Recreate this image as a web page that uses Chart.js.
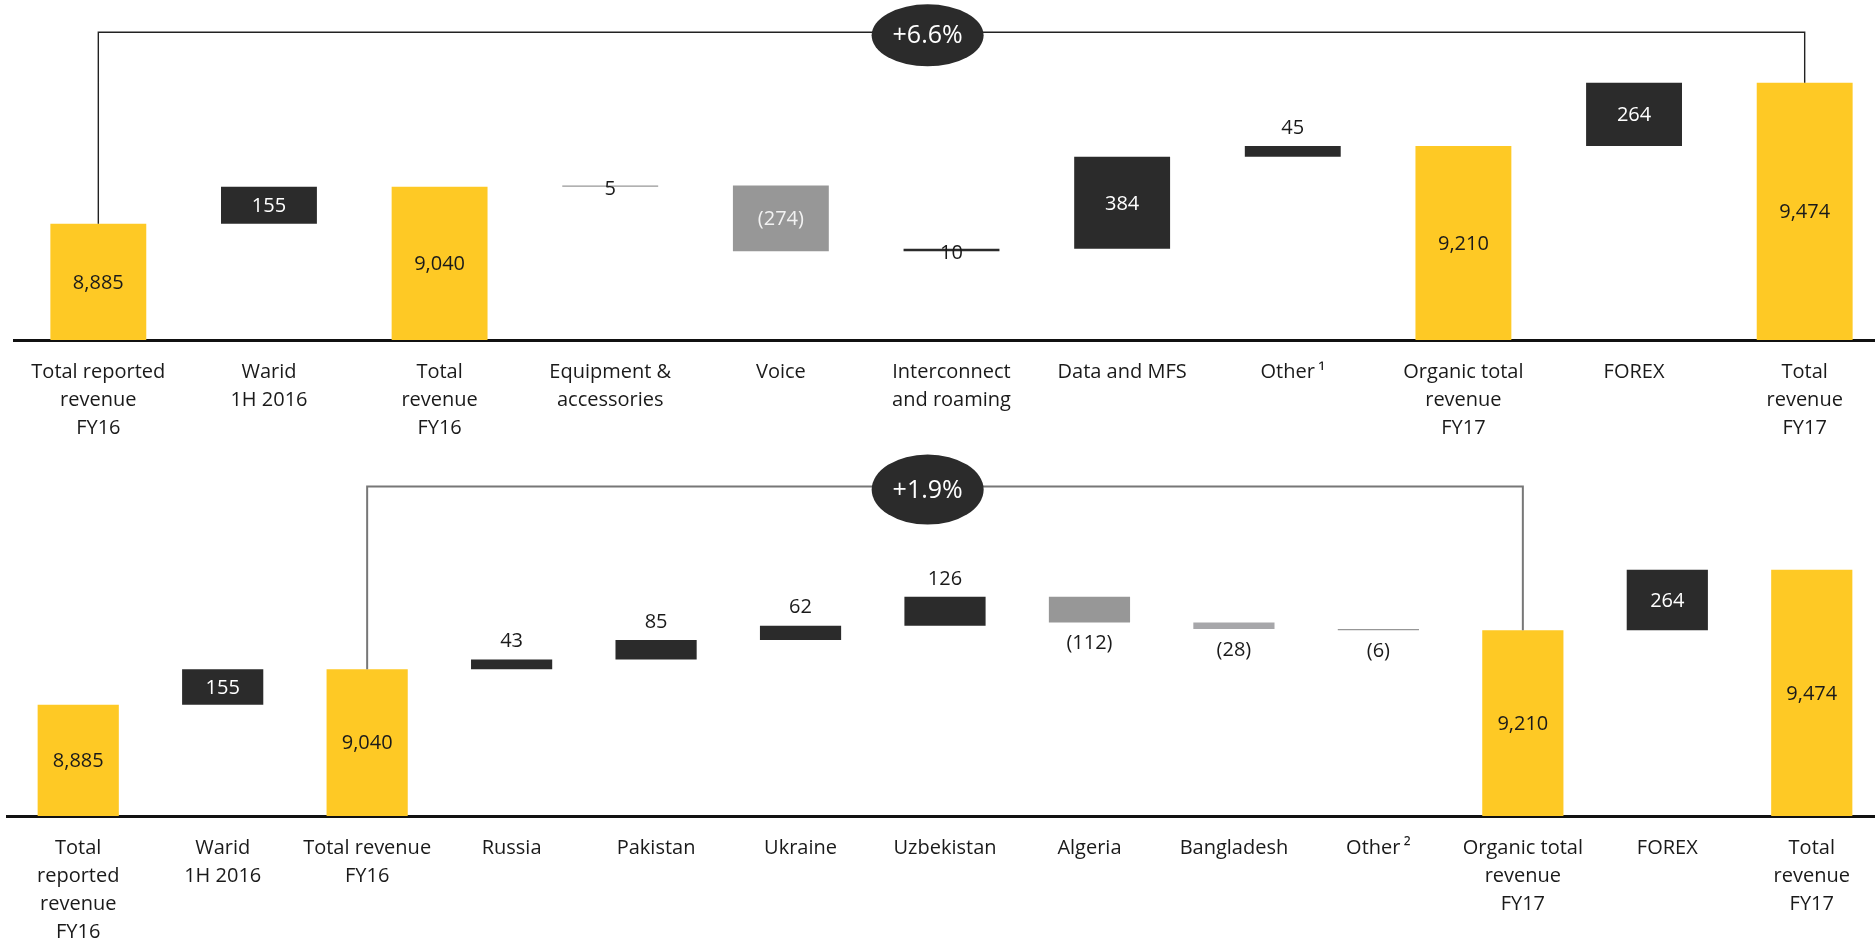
<!DOCTYPE html>
<html>
<head>
<meta charset="utf-8">
<script src="https://cdn.jsdelivr.net/npm/chart.js@4.4.0/dist/chart.umd.min.js"></script>
<style>
  html, body { margin: 0; padding: 0; background: #fff; overflow: hidden; width: 1875px; height: 943px; }
  canvas { position: absolute; }
  #top { left: 13px; top: 0; }
  #bottom { left: 6px; top: 440px; }
</style>
</head>
<body>
<canvas id="top" width="1877" height="440"></canvas>
<canvas id="bottom" width="1878" height="503"></canvas>
<script>
// ---- top chart: revenue bridge by driver ----
const topCategories = [
  ['Total reported', 'revenue', 'FY16'], ['Warid', '1H 2016'], ['Total', 'revenue', 'FY16'],
  ['Equipment &', 'accessories'], 'Voice', ['Interconnect', 'and roaming'], 'Data and MFS',
  'Other\u2009\u00B9', ['Organic total', 'revenue', 'FY17'], 'FOREX', ['Total', 'revenue', 'FY17']
];
const topValues = [8885, 155, 9040, 5, -274, 10, 384, 45, 9210, 264, 9474];
const topTotals = [0, 2, 8, 10];
const topGrowth = '+6.6%';

// ---- bottom chart: revenue bridge by country ----
const bottomCategories = [
  ['Total', 'reported', 'revenue', 'FY16'], ['Warid', '1H 2016'], ['Total revenue', 'FY16'],
  'Russia', 'Pakistan', 'Ukraine', 'Uzbekistan', 'Algeria', 'Bangladesh', 'Other\u2009\u00B2',
  ['Organic total', 'revenue', 'FY17'], 'FOREX', ['Total', 'revenue', 'FY17']
];
const bottomValues = [8885, 155, 9040, 43, 85, 62, 126, -112, -28, -6, 9210, 264, 9474];
const bottomTotals = [0, 2, 10, 12];
const bottomGrowth = '+1.9%';

// styles
const FONT = '"Open Sans", "Noto Sans", sans-serif';
const YELLOW = '#fec925';
const DARK = '#2b2b2b';
const GREY = '#979797';
const LIGHTGREY = '#a7a7aa';
const INK = '#1a1a1a';

const topColors = [YELLOW, DARK, YELLOW, GREY, GREY, DARK, DARK, DARK, YELLOW, DARK, YELLOW];
const topLabelPos = ['in', 'in', 'in', 'mid', 'in', 'mid', 'in', 'above', 'in', 'in', 'in'];
const topLabelColors = [INK, '#fff', INK, INK, '#f2f2f2', INK, '#fff', INK, INK, '#fff', INK];

const bottomColors = [YELLOW, DARK, YELLOW, DARK, DARK, DARK, DARK, GREY, LIGHTGREY, GREY, YELLOW, DARK, YELLOW];
const bottomLabelPos = ['in', 'in', 'in', 'above', 'above', 'above', 'above', 'below', 'below', 'below', 'in', 'in', 'in'];
const bottomLabelColors = [INK, '#fff', INK, INK, INK, INK, INK, INK, INK, INK, INK, '#fff', INK];

const FLOOR = 8400;

function waterfall(values, totals) {
  let run = 0;
  return values.map((v, i) => {
    if (totals.includes(i)) { run = v; return [FLOOR, v]; }
    const start = run;
    run += v;
    return [start, run];
  });
}

function fmt(v) {
  const s = Math.abs(v).toLocaleString('en-US');
  return v < 0 ? '(' + s + ')' : s;
}

const valueLabels = {
  id: 'valueLabels',
  afterDatasetsDraw(chart, args, o) {
    const ctx = chart.ctx;
    const meta = chart.getDatasetMeta(0);
    ctx.save();
    ctx.font = '20px ' + FONT;
    ctx.textAlign = 'center';
    ctx.textBaseline = 'middle';
    meta.data.forEach((bar, i) => {
      const top = Math.min(bar.y, bar.base);
      const bottom = Math.max(bar.y, bar.base);
      let y = (top + bottom) / 2 + 1;
      if (o.positions[i] === 'above') y = top - 18;
      if (o.positions[i] === 'below') y = bottom + 21;
      if (o.positions[i] === 'mid') y = (top + bottom) / 2 + 3;
      ctx.fillStyle = o.colors[i];
      ctx.fillText(fmt(o.values[i]), bar.x, y);
    });
    ctx.restore();
  }
};

const bracket = {
  id: 'bracket',
  afterDatasetsDraw(chart, args, o) {
    const ctx = chart.ctx, xs = chart.scales.x, ys = chart.scales.y;
    const meta = chart.getDatasetMeta(0);
    const x1 = xs.getPixelForValue(o.from), x2 = xs.getPixelForValue(o.to);
    const ly = ys.getPixelForValue(o.level);
    ctx.save();
    ctx.strokeStyle = o.color;
    ctx.lineWidth = o.width;
    ctx.beginPath();
    ctx.moveTo(x1, meta.data[o.from].y);
    ctx.lineTo(x1, ly);
    ctx.lineTo(x2, ly);
    ctx.lineTo(x2, meta.data[o.to].y);
    ctx.stroke();
    const bx = xs.getPixelForValue(o.bubbleAt), by = ly + 3;
    ctx.fillStyle = DARK;
    ctx.beginPath();
    ctx.ellipse(bx, by, o.rx, o.ry, 0, 0, Math.PI * 2);
    ctx.fill();
    ctx.fillStyle = '#fff';
    ctx.font = '25px ' + FONT;
    ctx.textAlign = 'center';
    ctx.textBaseline = 'middle';
    ctx.fillText(o.text, bx, by + 1);
    ctx.restore();
  }
};

function makeChart(id, cats, values, totals, colors, pos, labelColors, yMax, axisH, br) {
  return new Chart(document.getElementById(id), {
    type: 'bar',
    data: {
      labels: cats,
      datasets: [{
        data: waterfall(values, totals),
        backgroundColor: colors,
        borderWidth: 0,
        barPercentage: 0.562,
        categoryPercentage: 1
      }]
    },
    options: {
      responsive: false,
      animation: false,
      devicePixelRatio: 1,
      layout: { padding: 0 },
      plugins: {
        legend: { display: false },
        tooltip: { enabled: false },
        valueLabels: { values: values, positions: pos, colors: labelColors },
        bracket: br
      },
      scales: {
        x: {
          grid: { display: false, drawTicks: false },
          border: { display: true, color: '#111', width: 3 },
          ticks: {
            color: INK, padding: 18, maxRotation: 0, autoSkip: false,
            font: { family: FONT, size: 20, lineHeight: 1.4 }
          },
          afterFit(scale) { scale.height = axisH; }
        },
        y: { display: false, min: FLOOR, max: yMax }
      }
    },
    plugins: [valueLabels, bracket]
  });
}

makeChart('top', topCategories, topValues, topTotals, topColors, topLabelPos, topLabelColors, 9820, 100,
  { from: 0, to: 10, level: 9685, bubbleAt: 4.86, rx: 56, ry: 31, color: '#222', width: 1.4, text: topGrowth });

makeChart('bottom', bottomCategories, bottomValues, bottomTotals, bottomColors, bottomLabelPos, bottomLabelColors, 10040, 127,
  { from: 2, to: 10, level: 9837, bubbleAt: 5.88, rx: 56, ry: 35, color: '#777', width: 2, text: bottomGrowth });
</script>
</body>
</html>
